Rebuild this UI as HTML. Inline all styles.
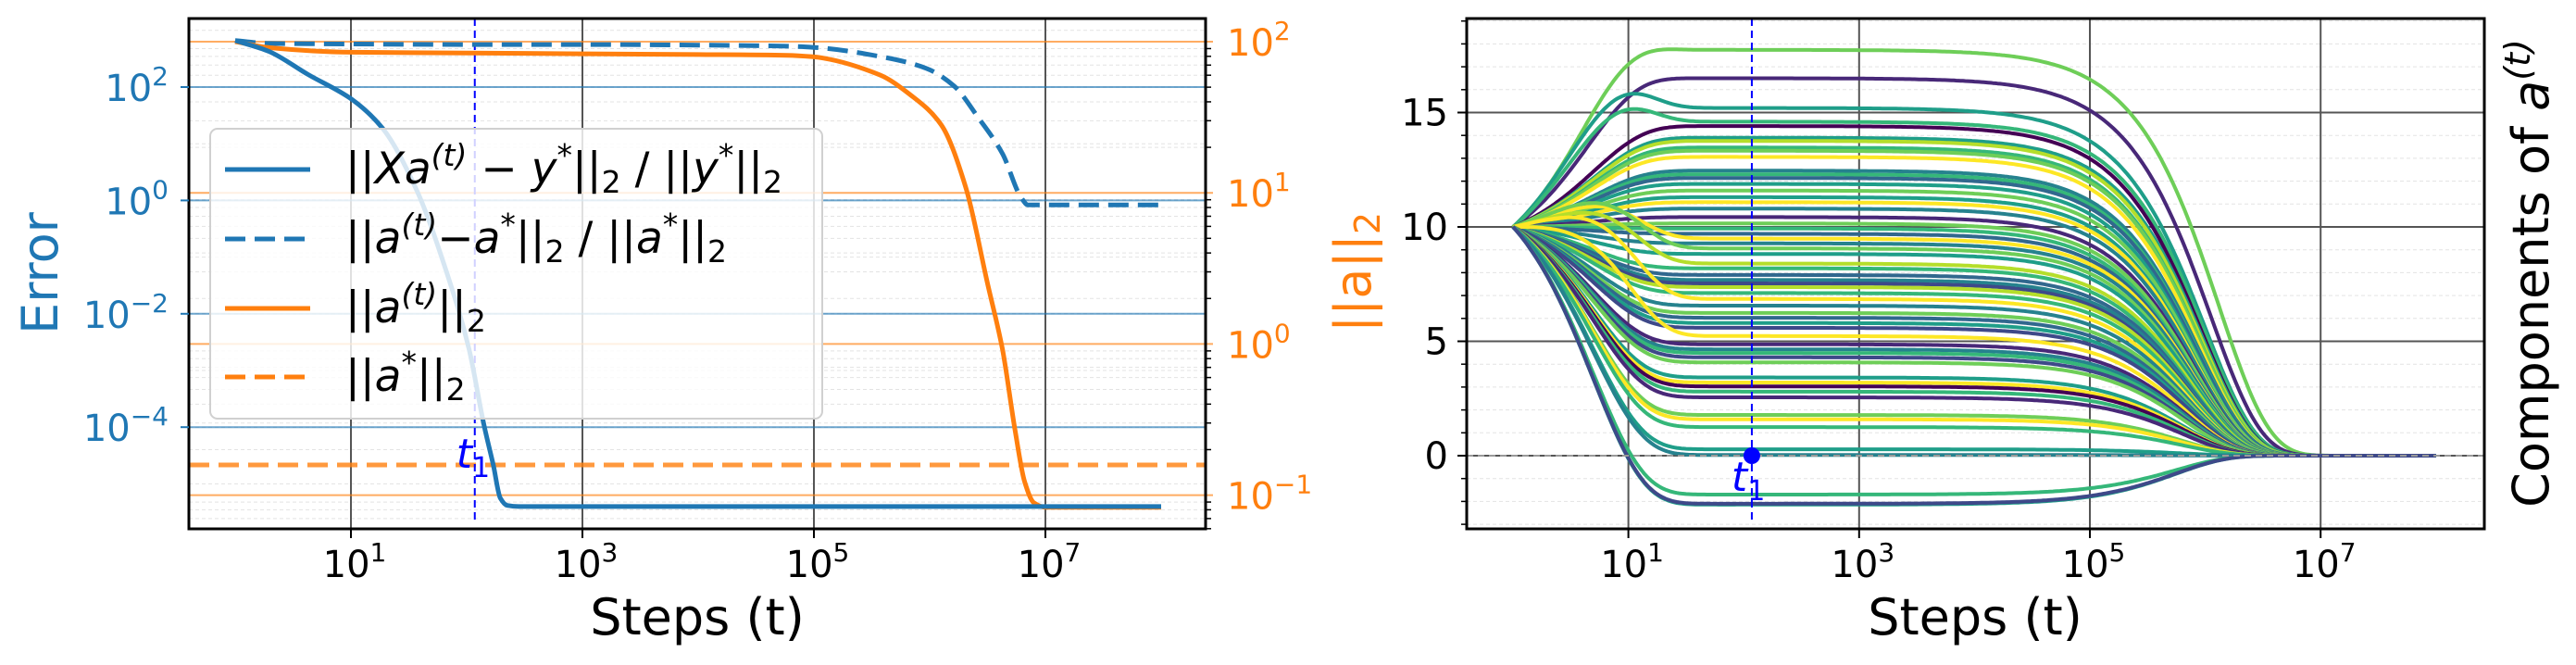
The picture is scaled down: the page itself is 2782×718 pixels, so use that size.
<!DOCTYPE html>
<html><head><meta charset="utf-8">
<style>
html,body{margin:0;padding:0;background:#fff;}
svg{display:block;font-family:"DejaVu Sans","Liberation Sans",sans-serif;}
</style></head>
<body>
<svg id="fig" width="2782" height="718" viewBox="0 0 2782 718" xmlns="http://www.w3.org/2000/svg">
<defs>
<clipPath id="clipL"><rect x="204" y="20" width="1098" height="551"/></clipPath>
<clipPath id="clipR"><rect x="1584" y="20" width="1099" height="551"/></clipPath>
</defs>
<g id="left"></g>
<g id="right"></g>
</svg>
<script>
// ---------- Left chart data ----------
const errTicks = [2, 0, -2, -4];
const normTicks = [2, 1, 0, -1];
const xTicks = [1, 3, 5, 7];
const t1Log = 2.07;
const resLogT = [0, 0.29, 0.63, 1.01, 1.27, 1.57, 1.83, 2.02, 2.15, 2.23, 2.29, 2.35, 2.45, 8.0];
const resLogE = [2.82, 2.63, 2.22, 1.78, 1.28, 0.17, -1.29, -2.62, -3.97, -4.67, -5.25, -5.38, -5.40, -5.40];
const parLogT = [0, 0.3, 1, 2, 3, 4, 4.77, 5.0, 5.57, 5.97, 6.21, 6.42, 6.63, 6.79, 6.85, 8.0];
const parLogE = [2.82, 2.77, 2.76, 2.75, 2.75, 2.74, 2.72, 2.70, 2.54, 2.33, 2.02, 1.46, 0.82, 0.05, -0.08, -0.08];
const nrmLogT = [0, 0.3, 1.0, 2, 3, 4, 4.77, 4.99, 5.57, 5.83, 6.10, 6.31, 6.50, 6.63, 6.74, 6.82, 6.90, 7.0, 8.0];
const nrmLogA = [2.0, 1.96, 1.93, 1.925, 1.92, 1.915, 1.91, 1.90, 1.78, 1.65, 1.45, 1.04, 0.40, -0.04, -0.58, -0.91, -1.05, -1.08, -1.08];
const starLogA = -0.80;

// ---------- Right chart data ----------
const compTicks = [0, 5, 10, 15];
const plateau = [17.74,16.5,15.2,14.6,14.41,13.9,13.76,13.47,13.33,13.06,12.46,12.3,12.14,11.88,11.59,11.3,11.08,10.8,10.43,10.15,9.93,9.7,9.49,9.28,9.06,8.82,8.4,8.19,7.9,7.68,7.53,7.37,7.11,6.85,6.56,6.24,6.03,5.8,5.59,5.23,4.87,4.65,4.49,4.3,4.08,3.42,3.2,3.03,2.8,2.55,1.78,1.59,1.25,0.28,0.03,-1.7,-2.14,-2.1];
const bump = [0.8,0.3,1.8,1.6,0,0,0,0,0,0,0,0,0,0,0,0,0,0,0,0,0,0,1.2,0,1.6,0,1.5,0,0,0,0,0,0,2.0,0,0,0,0,0,1.8,0,0,0,0,0,0,0,0,0,0,0,0,0,0,0,0,0,0];
const decayLog = [6.12,6.05,6.0,6.0,5.98,5.98,5.97,5.96,5.96,5.95,5.95,5.94,5.94,5.93,5.93,5.92,5.92,5.92,5.91,5.91,5.9,5.9,5.9,5.9,5.89,5.89,5.89,5.88,5.88,5.88,5.87,5.87,5.87,5.86,5.86,5.86,5.85,5.85,5.85,5.84,5.84,5.84,5.83,5.83,5.83,5.82,5.82,5.82,5.81,5.81,5.8,5.8,5.8,5.8,5.8,5.75,5.75,5.75];
const colorIdx = [7,1,5,6,0,5,8,6,7,9,4,6,3,5,7,5,9,4,1,7,6,3,9,4,7,5,8,6,3,4,2,8,6,9,4,7,3,5,2,9,1,4,6,2,7,5,9,0,6,1,7,9,6,5,4,6,5,2];
const viridis = ["#440154","#482878","#3e4989","#31688e","#26828e","#1f9e89","#35b779","#6ece58","#b5de2b","#fde725"];

const NS = "http://www.w3.org/2000/svg";
function mk(parent, tag, attrs, text){
  const e = document.createElementNS(NS, tag);
  for (const k in attrs) e.setAttribute(k, attrs[k]);
  if (text !== undefined) e.textContent = text;
  parent.appendChild(e);
  return e;
}
function monotone(pts){
  const n = pts.length, dx = [], m = [], d = [];
  for (let i = 0; i < n-1; i++){ dx[i] = pts[i+1][0]-pts[i][0]; d[i] = (pts[i+1][1]-pts[i][1])/dx[i]; }
  m[0] = d[0]; m[n-1] = d[n-2];
  for (let i = 1; i < n-1; i++){
    if (d[i-1]*d[i] <= 0) m[i] = 0;
    else { const w1 = 2*dx[i]+dx[i-1], w2 = dx[i]+2*dx[i-1]; m[i] = (w1+w2)/(w1/d[i-1]+w2/d[i]); }
  }
  let s = "M" + pts[0][0].toFixed(1) + "," + pts[0][1].toFixed(1);
  for (let i = 0; i < n-1; i++){
    const h = dx[i];
    s += " C" + (pts[i][0]+h/3).toFixed(1) + "," + (pts[i][1]+m[i]*h/3).toFixed(1) + " " +
         (pts[i+1][0]-h/3).toFixed(1) + "," + (pts[i+1][1]-m[i+1]*h/3).toFixed(1) + " " +
         pts[i+1][0].toFixed(1) + "," + pts[i+1][1].toFixed(1);
  }
  return s;
}
function sup10(parent, x, y, exp, color, anchor, name){
  const t = mk(parent, "text", {x:x, y:y, "font-size":40, fill:color, "text-anchor":anchor});
  
  
  mk(t, "tspan", {}, "10");
  mk(t, "tspan", {dy:-17, "font-size":28}, exp < 0 ? "\u2212" + (-exp) : String(exp));
  return t;
}

// ================= LEFT =================
const L = document.getElementById("left");
const xL = lt => 254 + 125*lt;
const yE = le => 94 + (2-le)*61.2;
const yA = la => 45 + (2-la)*163.2;
const BLUE = "#1f77b4", ORANGE = "#ff7f0e";

for (let d = -2; d <= 2; d++){
  for (let m = 2; m <= 9; m++){
    const y = yA(d + Math.log10(m));
    if (y > 20 && y < 571){
      const g = mk(L, "line", {x1:204, x2:1302, y1:y, y2:y, stroke:"#e3e3e3", "stroke-width":1, "stroke-dasharray":"4,3"});
      
      
    }
  }
}
for (let d = -6; d <= 3; d++){
  const y = yE(d);
  if (y > 20 && y < 571){
    const g = mk(L, "line", {x1:204, x2:1302, y1:y, y2:y, stroke:"#e3e3e3", "stroke-width":1, "stroke-dasharray":"4,3"});
    
    
  }
}
xTicks.forEach(k => {
  const g = mk(L, "line", {x1:xL(k), x2:xL(k), y1:20, y2:571, stroke:"#555", "stroke-width":2});
  
  
});
errTicks.forEach(k => {
  const g = mk(L, "line", {x1:204, x2:1302, y1:yE(k), y2:yE(k), stroke:BLUE, "stroke-opacity":0.65, "stroke-width":2});
  
  
});
normTicks.forEach(k => {
  const g = mk(L, "line", {x1:204, x2:1310, y1:yA(k), y2:yA(k), stroke:ORANGE, "stroke-opacity":0.65, "stroke-width":2});
  
  
});

const cL = mk(L, "g", {"clip-path":"url(#clipL)"});


let e = mk(cL, "line", {x1:204, x2:1302, y1:yA(starLogA), y2:yA(starLogA), stroke:ORANGE, "stroke-opacity":0.8, "stroke-width":5, "stroke-dasharray":"22,10"});


e = mk(cL, "line", {x1:xL(t1Log), x2:xL(t1Log), y1:20, y2:566, stroke:"#0000ff", "stroke-width":2, "stroke-dasharray":"8,5"});


e = mk(cL, "path", {d:monotone(parLogT.map((t,i)=>[xL(t), yE(parLogE[i])])), fill:"none", stroke:BLUE, "stroke-width":5, "stroke-dasharray":"22,10"});


e = mk(cL, "path", {d:monotone(nrmLogT.map((t,i)=>[xL(t), yA(nrmLogA[i])])), fill:"none", stroke:ORANGE, "stroke-width":5});


e = mk(cL, "path", {d:monotone(resLogT.map((t,i)=>[xL(t), yE(resLogE[i])])), fill:"none", stroke:BLUE, "stroke-width":5});



e = mk(L, "text", {x:xL(t1Log)-20, y:505, fill:"#0000ff", "font-size":44, "font-style":"italic"});


mk(e, "tspan", {}, "t");
mk(e, "tspan", {dy:10, "font-size":30, "font-style":"normal"}, "1");

// legend
const lg = mk(L, "g", {});


mk(lg, "rect", {x:227, y:139, width:661, height:313, rx:8, fill:"#fff", "fill-opacity":0.82, stroke:"#d0d0d0", "stroke-width":2});
const legRows = [
  {y:183, c:BLUE, dash:null, name:"legend-residual-error"},
  {y:258, c:BLUE, dash:"22,10", name:"legend-parameter-error"},
  {y:333, c:ORANGE, dash:null, name:"legend-a-norm"},
  {y:407, c:ORANGE, dash:"22,10", name:"legend-a-star-norm"}
];
legRows.forEach((r, i) => {
  const ln = mk(lg, "line", {x1:243, x2:335, y1:r.y, y2:r.y, stroke:r.c, "stroke-width":5});
  if (r.dash) ln.setAttribute("stroke-dasharray", r.dash);
  
  
  const tx = mk(lg, "text", {x:373, y:r.y+15, "font-size":47, fill:"#000"});
  
  
  tx.setAttribute('xml:space', 'preserve');
  const sp = (t, o) => mk(tx, "tspan", o || {}, t);
  const it = {"font-style":"italic"};
  const supT = () => sp("(t)", {dy:-19, "font-size":33, "font-style":"italic"});
  const supS = () => sp("*", {dy:-19, "font-size":33});
  const sub2 = () => sp("2", {dy:10, "font-size":33});
  if (i === 0){
    sp("||"); sp("Xa", it); supT(); sp(" \u2212 ", {dy:19}); sp("y", it); supS(); sp("||", {dy:19}); sub2();
    sp("  /  ", {dy:-10}); sp("||"); sp("y", it); supS(); sp("||", {dy:19}); sub2();
  } else if (i === 1){
    sp("||"); sp("a", it); supT(); sp("\u2212", {dy:19}); sp("a", it); supS(); sp("||", {dy:19}); sub2();
    sp("  /  ", {dy:-10}); sp("||"); sp("a", it); supS(); sp("||", {dy:19}); sub2();
  } else if (i === 2){
    sp("||"); sp("a", it); supT(); sp("||", {dy:19}); sub2();
  } else {
    sp("||"); sp("a", it); supS(); sp("||", {dy:19}); sub2();
  }
});

e = mk(L, "rect", {x:204, y:20, width:1098, height:551, fill:"none", stroke:"#000", "stroke-width":3});


xTicks.forEach(k => {
  const tk = mk(L, "line", {x1:xL(k), x2:xL(k), y1:571, y2:581, stroke:"#000", "stroke-width":2});
  
  
  sup10(L, xL(k)+4, 623, k, "#000", "middle", "x-tick-label");
});
errTicks.forEach(k => {
  const tk = mk(L, "line", {x1:195, x2:204, y1:yE(k), y2:yE(k), stroke:BLUE, "stroke-width":2});
  
  
  sup10(L, 182, yE(k)+15, k, BLUE, "end", "error-tick-label");
});
for (let d = -2; d <= 2; d++){
  for (let m = 2; m <= 9; m++){
    const y = yA(d + Math.log10(m));
    if (y > 20 && y < 571){
      const tk = mk(L, "line", {x1:1302, x2:1308, y1:y, y2:y, stroke:"#000", "stroke-width":1.5});
      
      
    }
  }
}
normTicks.forEach(k => {
  sup10(L, 1325, yA(k)+15, k, ORANGE, "start", "norm-tick-label");
});
e = mk(L, "text", {x:753, y:685, "font-size":54, "text-anchor":"middle", fill:"#000"}, "Steps (t)");


e = mk(L, "text", {x:0, y:0, "font-size":54, "text-anchor":"middle", fill:BLUE, transform:"translate(62,295) rotate(-90)"}, "Error");


e = mk(L, "text", {x:0, y:0, "font-size":54, "text-anchor":"middle", fill:ORANGE, transform:"translate(1480,294) rotate(-90)"});


mk(e, "tspan", {}, "||a||");
mk(e, "tspan", {dy:10, "font-size":38}, "2");

// ================= RIGHT =================
const R = document.getElementById("right");
const xR = lt => 1634 + 124.6*lt;
const yR = v => 492 - 24.7*v;
for (let v = -3; v <= 19; v++){
  if (compTicks.indexOf(v) >= 0) continue;
  const g = mk(R, "line", {x1:1584, x2:2683, y1:yR(v), y2:yR(v), stroke:"#e3e3e3", "stroke-width":1, "stroke-dasharray":"4,3"});
  
  
  const tk = mk(R, "line", {x1:1578, x2:1584, y1:yR(v), y2:yR(v), stroke:"#000", "stroke-width":1.5});
  
  
}
compTicks.forEach(v => {
  const g = mk(R, "line", {x1:1584, x2:2683, y1:yR(v), y2:yR(v), stroke:"#555", "stroke-width":2});
  
  
});
xTicks.forEach(k => {
  const g = mk(R, "line", {x1:xR(k), x2:xR(k), y1:20, y2:571, stroke:"#555", "stroke-width":2});
  
  
});
const cR = mk(R, "g", {"clip-path":"url(#clipR)"});


plateau.forEach((p, i) => {
  const tau = Math.pow(10, decayLog[i]);
  const pts = [];
  for (let lt = 0; lt <= 8.0001; lt += 0.02){
    const t = Math.pow(10, lt);
    const s = (t - 1) / 5;
    const early = p + (10 - p) * Math.exp(-s) + bump[i] * s * Math.exp(1 - s);
    pts.push([xR(lt), yR(early * Math.exp(-t / tau))]);
  }
  const pl = mk(cR, "polyline", {points:pts.map(q=>q[0].toFixed(1)+","+q[1].toFixed(1)).join(" "), fill:"none", stroke:viridis[colorIdx[i]], "stroke-width":4, "stroke-linejoin":"round"});
  
  
});
e = mk(cR, "line", {x1:1584, x2:2683, y1:yR(0), y2:yR(0), stroke:"#999", "stroke-width":2, "stroke-dasharray":"7,5"});


e = mk(cR, "line", {x1:xR(t1Log), x2:xR(t1Log), y1:20, y2:566, stroke:"#0000ff", "stroke-width":2, "stroke-dasharray":"8,5"});


e = mk(R, "circle", {cx:xR(t1Log), cy:yR(0), r:9, fill:"#0000ff"});


e = mk(R, "text", {x:xR(t1Log)-22, y:530, fill:"#0000ff", "font-size":44, "font-style":"italic"});


mk(e, "tspan", {}, "t");
mk(e, "tspan", {dy:10, "font-size":30, "font-style":"normal"}, "1");

e = mk(R, "rect", {x:1584, y:20, width:1099, height:551, fill:"none", stroke:"#000", "stroke-width":3});


xTicks.forEach(k => {
  const tk = mk(R, "line", {x1:xR(k), x2:xR(k), y1:571, y2:581, stroke:"#000", "stroke-width":2});
  
  
  sup10(R, xR(k)+4, 623, k, "#000", "middle", "x-tick-label");
});
compTicks.forEach(v => {
  const tk = mk(R, "line", {x1:1574, x2:1584, y1:yR(v), y2:yR(v), stroke:"#000", "stroke-width":2});
  
  
  const tl = mk(R, "text", {x:1564, y:yR(v)+14, "font-size":40, "text-anchor":"end", fill:"#000"}, String(v));
  
  
});
e = mk(R, "text", {x:2133, y:685, "font-size":54, "text-anchor":"middle", fill:"#000"}, "Steps (t)");


e = mk(R, "text", {x:0, y:0, "font-size":54, "text-anchor":"middle", fill:"#000", transform:"translate(2752,295) rotate(-90)"});


mk(e, "tspan", {}, "Components of ");
mk(e, "tspan", {"font-style":"italic"}, "a");
mk(e, "tspan", {dy:-20, "font-size":38, "font-style":"italic"}, "(t)");
</script>
</body></html>
